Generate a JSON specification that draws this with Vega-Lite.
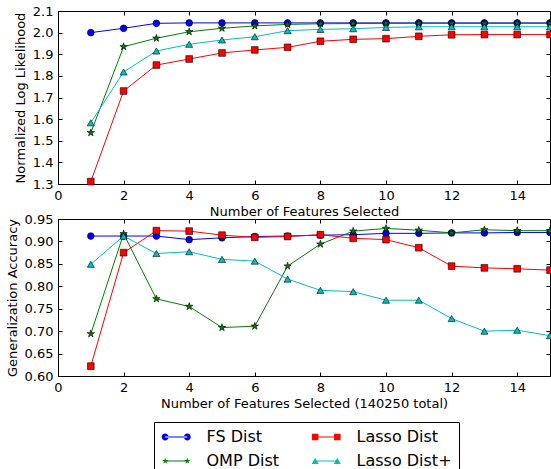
{
  "$schema": "https://vega.github.io/schema/vega-lite/v6.json",
  "padding": {"left": 5, "top": 4, "right": 0, "bottom": 0},
  "background": "white",
  "config": {
    "font": "DejaVu Sans",
    "view": {"stroke": "black", "strokeWidth": 1},
    "axis": {
      "labelFontSize": 13, "titleFontSize": 13, "titleFontWeight": "normal",
      "labelColor": "black", "titleColor": "black", "tickColor": "black",
      "domain": false, "grid": false, "tickSize": -4, "labelFlush": false
    },
    "legend": {
      "orient": "none", "legendX": 96, "legendY": 411,
      "columns": 2, "columnPadding": 31, "rowPadding": 8,
      "strokeColor": "black", "fillColor": "white", "padding": 7,
      "labelFontSize": 16, "labelColor": "black", "labelOffset": 29.5,
      "symbolSize": 210, "symbolStrokeWidth": 0, "symbolOpacity": 1
    }
  },
  "datasets": {
    "ll": [
      {"x": 1, "s": "FS Dist", "v": 2.000}, {"x": 2, "s": "FS Dist", "v": 2.020}, {"x": 3, "s": "FS Dist", "v": 2.043},
      {"x": 4, "s": "FS Dist", "v": 2.045}, {"x": 5, "s": "FS Dist", "v": 2.045}, {"x": 6, "s": "FS Dist", "v": 2.045},
      {"x": 7, "s": "FS Dist", "v": 2.045}, {"x": 8, "s": "FS Dist", "v": 2.045}, {"x": 9, "s": "FS Dist", "v": 2.045},
      {"x": 10, "s": "FS Dist", "v": 2.045}, {"x": 11, "s": "FS Dist", "v": 2.045}, {"x": 12, "s": "FS Dist", "v": 2.045},
      {"x": 13, "s": "FS Dist", "v": 2.045}, {"x": 14, "s": "FS Dist", "v": 2.045}, {"x": 15, "s": "FS Dist", "v": 2.045},
      {"x": 1, "s": "OMP Dist", "v": 1.537}, {"x": 2, "s": "OMP Dist", "v": 1.935}, {"x": 3, "s": "OMP Dist", "v": 1.974},
      {"x": 4, "s": "OMP Dist", "v": 2.004}, {"x": 5, "s": "OMP Dist", "v": 2.020}, {"x": 6, "s": "OMP Dist", "v": 2.031},
      {"x": 7, "s": "OMP Dist", "v": 2.038}, {"x": 8, "s": "OMP Dist", "v": 2.041}, {"x": 9, "s": "OMP Dist", "v": 2.042},
      {"x": 10, "s": "OMP Dist", "v": 2.043}, {"x": 11, "s": "OMP Dist", "v": 2.043}, {"x": 12, "s": "OMP Dist", "v": 2.043},
      {"x": 13, "s": "OMP Dist", "v": 2.043}, {"x": 14, "s": "OMP Dist", "v": 2.043}, {"x": 15, "s": "OMP Dist", "v": 2.043},
      {"x": 1, "s": "Lasso Dist", "v": 1.311}, {"x": 2, "s": "Lasso Dist", "v": 1.730}, {"x": 3, "s": "Lasso Dist", "v": 1.850},
      {"x": 4, "s": "Lasso Dist", "v": 1.878}, {"x": 5, "s": "Lasso Dist", "v": 1.906}, {"x": 6, "s": "Lasso Dist", "v": 1.920},
      {"x": 7, "s": "Lasso Dist", "v": 1.932}, {"x": 8, "s": "Lasso Dist", "v": 1.960}, {"x": 9, "s": "Lasso Dist", "v": 1.969},
      {"x": 10, "s": "Lasso Dist", "v": 1.972}, {"x": 11, "s": "Lasso Dist", "v": 1.983}, {"x": 12, "s": "Lasso Dist", "v": 1.990},
      {"x": 13, "s": "Lasso Dist", "v": 1.991}, {"x": 14, "s": "Lasso Dist", "v": 1.991}, {"x": 15, "s": "Lasso Dist", "v": 1.991},
      {"x": 1, "s": "Lasso Dist+", "v": 1.583}, {"x": 2, "s": "Lasso Dist+", "v": 1.818}, {"x": 3, "s": "Lasso Dist+", "v": 1.915},
      {"x": 4, "s": "Lasso Dist+", "v": 1.946}, {"x": 5, "s": "Lasso Dist+", "v": 1.966}, {"x": 6, "s": "Lasso Dist+", "v": 1.981},
      {"x": 7, "s": "Lasso Dist+", "v": 2.009}, {"x": 8, "s": "Lasso Dist+", "v": 2.015}, {"x": 9, "s": "Lasso Dist+", "v": 2.018},
      {"x": 10, "s": "Lasso Dist+", "v": 2.024}, {"x": 11, "s": "Lasso Dist+", "v": 2.027}, {"x": 12, "s": "Lasso Dist+", "v": 2.027},
      {"x": 13, "s": "Lasso Dist+", "v": 2.027}, {"x": 14, "s": "Lasso Dist+", "v": 2.027}, {"x": 15, "s": "Lasso Dist+", "v": 2.027}
    ],
    "acc": [
      {"x": 1, "s": "FS Dist", "v": 0.912}, {"x": 2, "s": "FS Dist", "v": 0.912}, {"x": 3, "s": "FS Dist", "v": 0.912},
      {"x": 4, "s": "FS Dist", "v": 0.904}, {"x": 5, "s": "FS Dist", "v": 0.908}, {"x": 6, "s": "FS Dist", "v": 0.911},
      {"x": 7, "s": "FS Dist", "v": 0.912}, {"x": 8, "s": "FS Dist", "v": 0.914}, {"x": 9, "s": "FS Dist", "v": 0.915},
      {"x": 10, "s": "FS Dist", "v": 0.918}, {"x": 11, "s": "FS Dist", "v": 0.918}, {"x": 12, "s": "FS Dist", "v": 0.919},
      {"x": 13, "s": "FS Dist", "v": 0.919}, {"x": 14, "s": "FS Dist", "v": 0.920}, {"x": 15, "s": "FS Dist", "v": 0.920},
      {"x": 1, "s": "OMP Dist", "v": 0.694}, {"x": 2, "s": "OMP Dist", "v": 0.917}, {"x": 3, "s": "OMP Dist", "v": 0.772},
      {"x": 4, "s": "OMP Dist", "v": 0.755}, {"x": 5, "s": "OMP Dist", "v": 0.708}, {"x": 6, "s": "OMP Dist", "v": 0.711},
      {"x": 7, "s": "OMP Dist", "v": 0.845}, {"x": 8, "s": "OMP Dist", "v": 0.894}, {"x": 9, "s": "OMP Dist", "v": 0.923},
      {"x": 10, "s": "OMP Dist", "v": 0.929}, {"x": 11, "s": "OMP Dist", "v": 0.925}, {"x": 12, "s": "OMP Dist", "v": 0.919},
      {"x": 13, "s": "OMP Dist", "v": 0.926}, {"x": 14, "s": "OMP Dist", "v": 0.924}, {"x": 15, "s": "OMP Dist", "v": 0.924},
      {"x": 1, "s": "Lasso Dist", "v": 0.622}, {"x": 2, "s": "Lasso Dist", "v": 0.875}, {"x": 3, "s": "Lasso Dist", "v": 0.924},
      {"x": 4, "s": "Lasso Dist", "v": 0.923}, {"x": 5, "s": "Lasso Dist", "v": 0.914}, {"x": 6, "s": "Lasso Dist", "v": 0.909},
      {"x": 7, "s": "Lasso Dist", "v": 0.911}, {"x": 8, "s": "Lasso Dist", "v": 0.915}, {"x": 9, "s": "Lasso Dist", "v": 0.907},
      {"x": 10, "s": "Lasso Dist", "v": 0.904}, {"x": 11, "s": "Lasso Dist", "v": 0.886}, {"x": 12, "s": "Lasso Dist", "v": 0.845},
      {"x": 13, "s": "Lasso Dist", "v": 0.841}, {"x": 14, "s": "Lasso Dist", "v": 0.839}, {"x": 15, "s": "Lasso Dist", "v": 0.836},
      {"x": 1, "s": "Lasso Dist+", "v": 0.849}, {"x": 2, "s": "Lasso Dist+", "v": 0.912}, {"x": 3, "s": "Lasso Dist+", "v": 0.873},
      {"x": 4, "s": "Lasso Dist+", "v": 0.877}, {"x": 5, "s": "Lasso Dist+", "v": 0.860}, {"x": 6, "s": "Lasso Dist+", "v": 0.856},
      {"x": 7, "s": "Lasso Dist+", "v": 0.816}, {"x": 8, "s": "Lasso Dist+", "v": 0.791}, {"x": 9, "s": "Lasso Dist+", "v": 0.788},
      {"x": 10, "s": "Lasso Dist+", "v": 0.769}, {"x": 11, "s": "Lasso Dist+", "v": 0.769}, {"x": 12, "s": "Lasso Dist+", "v": 0.728},
      {"x": 13, "s": "Lasso Dist+", "v": 0.700}, {"x": 14, "s": "Lasso Dist+", "v": 0.702}, {"x": 15, "s": "Lasso Dist+", "v": 0.690}
    ]
  },
  "bounds": "flush",
  "spacing": 35,
  "vconcat": [
    {
      "width": 492, "height": 173,
      "data": {"name": "ll"},
      "layer": [
        {
          "mark": {"type": "line", "strokeWidth": 1},
          "encoding": {
            "x": {"field": "x", "type": "quantitative", "scale": {"domain": [0, 15], "nice": false},
                  "axis": {"orient": "bottom", "values": [0, 2, 4, 6, 8, 10, 12, 14], "labelPadding": 9, "title": "Number of Features Selected", "titlePadding": 3}},
            "y": {"field": "v", "type": "quantitative", "scale": {"domain": [1.3, 2.1], "nice": false, "zero": false},
                  "axis": {"orient": "left", "values": [1.3, 1.4, 1.5, 1.6, 1.7, 1.8, 1.9, 2.0, 2.1], "format": ".1f", "labelPadding": 9, "title": "Normalized Log Likelihood", "titlePadding": 5}},
            "color": {"field": "s", "type": "nominal",
                      "scale": {"domain": ["FS Dist", "OMP Dist", "Lasso Dist", "Lasso Dist+"], "range": ["#0000ff", "#008000", "#ff0000", "#00bfbf"]},
                      "legend": {"title": null}}
          }
        },
        {
          "transform": [{"filter": "datum.s === 'FS Dist'"}],
          "mark": {"type": "point", "shape": "circle", "filled": true, "opacity": 1, "stroke": "black", "strokeWidth": 0.6, "size": 45},
          "encoding": {
            "x": {"field": "x", "type": "quantitative",
                  "axis": {"orient": "top", "values": [0, 2, 4, 6, 8, 10, 12, 14], "labels": false, "title": null}},
            "y": {"field": "v", "type": "quantitative",
                  "axis": {"orient": "right", "values": [1.3, 1.4, 1.5, 1.6, 1.7, 1.8, 1.9, 2.0, 2.1], "labels": false, "title": null}},
            "color": {"field": "s", "type": "nominal"}
          }
        },
        {
          "transform": [{"filter": "datum.s === 'OMP Dist'"}],
          "mark": {"type": "point", "shape": "M0,-1L0.225,-0.309L0.951,-0.309L0.363,0.118L0.588,0.809L0,0.382L-0.588,0.809L-0.363,0.118L-0.951,-0.309L-0.225,-0.309Z", "filled": true, "opacity": 1, "stroke": "black", "strokeWidth": 0.6, "size": 60},
          "encoding": {
            "x": {"field": "x", "type": "quantitative", "axis": null},
            "y": {"field": "v", "type": "quantitative", "axis": null},
            "color": {"field": "s", "type": "nominal"}
          }
        },
        {
          "transform": [{"filter": "datum.s === 'Lasso Dist'"}],
          "mark": {"type": "point", "shape": "square", "filled": true, "opacity": 1, "stroke": "black", "strokeWidth": 0.6, "size": 45},
          "encoding": {
            "x": {"field": "x", "type": "quantitative", "axis": null},
            "y": {"field": "v", "type": "quantitative", "axis": null},
            "color": {"field": "s", "type": "nominal"}
          }
        },
        {
          "transform": [{"filter": "datum.s === 'Lasso Dist+'"}],
          "mark": {"type": "point", "shape": "triangle-up", "filled": true, "opacity": 1, "stroke": "black", "strokeWidth": 0.6, "size": 50},
          "encoding": {
            "x": {"field": "x", "type": "quantitative", "axis": null},
            "y": {"field": "v", "type": "quantitative", "axis": null},
            "color": {"field": "s", "type": "nominal"}
          }
        },
        {
          "transform": [{"filter": "false"}],
          "mark": {"type": "point", "filled": true, "opacity": 1, "strokeWidth": 0},
          "encoding": {
            "x": {"field": "x", "type": "quantitative", "axis": null},
            "y": {"field": "v", "type": "quantitative", "axis": null},
            "color": {"field": "s", "type": "nominal"},
            "shape": {"field": "s", "type": "nominal",
                      "scale": {"domain": ["FS Dist", "OMP Dist", "Lasso Dist", "Lasso Dist+"],
                                "range": [
                                  "M-0.53,-0.07H2.53V0.07H-0.53Z M-1,0A0.47,0.47,0,1,0,-0.06,0A0.47,0.47,0,1,0,-1,0Z M2.06,0A0.47,0.47,0,1,0,3,0A0.47,0.47,0,1,0,2.06,0Z",
                                  "M-0.53,-0.07H2.53V0.07H-0.53Z M-0.53,-0.45L-0.424,-0.146L-0.102,-0.139L-0.359,0.056L-0.265,0.364L-0.53,0.18L-0.795,0.364L-0.701,0.056L-0.958,-0.139L-0.636,-0.146Z M2.53,-0.45L2.636,-0.146L2.958,-0.139L2.701,0.056L2.795,0.364L2.53,0.18L2.265,0.364L2.359,0.056L2.102,-0.139L2.424,-0.146Z",
                                  "M-0.53,-0.07H2.53V0.07H-0.53Z M-0.98,-0.45H-0.08V0.45H-0.98Z M2.08,-0.45H2.98V0.45H2.08Z",
                                  "M-0.53,-0.07H2.53V0.07H-0.53Z M-0.53,-0.45L-0.05,0.4H-1.01Z M2.53,-0.45L3.01,0.4H2.05Z"
                                ]},
                      "legend": {"title": null}}
          }
        }
      ]
    },
    {
      "width": 492, "height": 157,
      "data": {"name": "acc"},
      "layer": [
        {
          "mark": {"type": "line", "strokeWidth": 1},
          "encoding": {
            "x": {"field": "x", "type": "quantitative", "scale": {"domain": [0, 15], "nice": false},
                  "axis": {"orient": "bottom", "values": [0, 2, 4, 6, 8, 10, 12, 14], "labelPadding": 9, "title": "Number of Features Selected (140250 total)", "titlePadding": 3}},
            "y": {"field": "v", "type": "quantitative", "scale": {"domain": [0.6, 0.95], "nice": false, "zero": false},
                  "axis": {"orient": "left", "values": [0.6, 0.65, 0.7, 0.75, 0.8, 0.85, 0.9, 0.95], "format": ".2f", "labelPadding": 9, "title": "Generalization Accuracy", "titlePadding": 5}},
            "color": {"field": "s", "type": "nominal"}
          }
        },
        {
          "transform": [{"filter": "datum.s === 'FS Dist'"}],
          "mark": {"type": "point", "shape": "circle", "filled": true, "opacity": 1, "stroke": "black", "strokeWidth": 0.6, "size": 45},
          "encoding": {
            "x": {"field": "x", "type": "quantitative",
                  "axis": {"orient": "top", "values": [0, 2, 4, 6, 8, 10, 12, 14], "labels": false, "title": null}},
            "y": {"field": "v", "type": "quantitative",
                  "axis": {"orient": "right", "values": [0.6, 0.65, 0.7, 0.75, 0.8, 0.85, 0.9, 0.95], "labels": false, "title": null}},
            "color": {"field": "s", "type": "nominal"}
          }
        },
        {
          "transform": [{"filter": "datum.s === 'OMP Dist'"}],
          "mark": {"type": "point", "shape": "M0,-1L0.225,-0.309L0.951,-0.309L0.363,0.118L0.588,0.809L0,0.382L-0.588,0.809L-0.363,0.118L-0.951,-0.309L-0.225,-0.309Z", "filled": true, "opacity": 1, "stroke": "black", "strokeWidth": 0.6, "size": 60},
          "encoding": {
            "x": {"field": "x", "type": "quantitative", "axis": null},
            "y": {"field": "v", "type": "quantitative", "axis": null},
            "color": {"field": "s", "type": "nominal"}
          }
        },
        {
          "transform": [{"filter": "datum.s === 'Lasso Dist'"}],
          "mark": {"type": "point", "shape": "square", "filled": true, "opacity": 1, "stroke": "black", "strokeWidth": 0.6, "size": 45},
          "encoding": {
            "x": {"field": "x", "type": "quantitative", "axis": null},
            "y": {"field": "v", "type": "quantitative", "axis": null},
            "color": {"field": "s", "type": "nominal"}
          }
        },
        {
          "transform": [{"filter": "datum.s === 'Lasso Dist+'"}],
          "mark": {"type": "point", "shape": "triangle-up", "filled": true, "opacity": 1, "stroke": "black", "strokeWidth": 0.6, "size": 50},
          "encoding": {
            "x": {"field": "x", "type": "quantitative", "axis": null},
            "y": {"field": "v", "type": "quantitative", "axis": null},
            "color": {"field": "s", "type": "nominal"}
          }
        }
      ]
    }
  ]
}
